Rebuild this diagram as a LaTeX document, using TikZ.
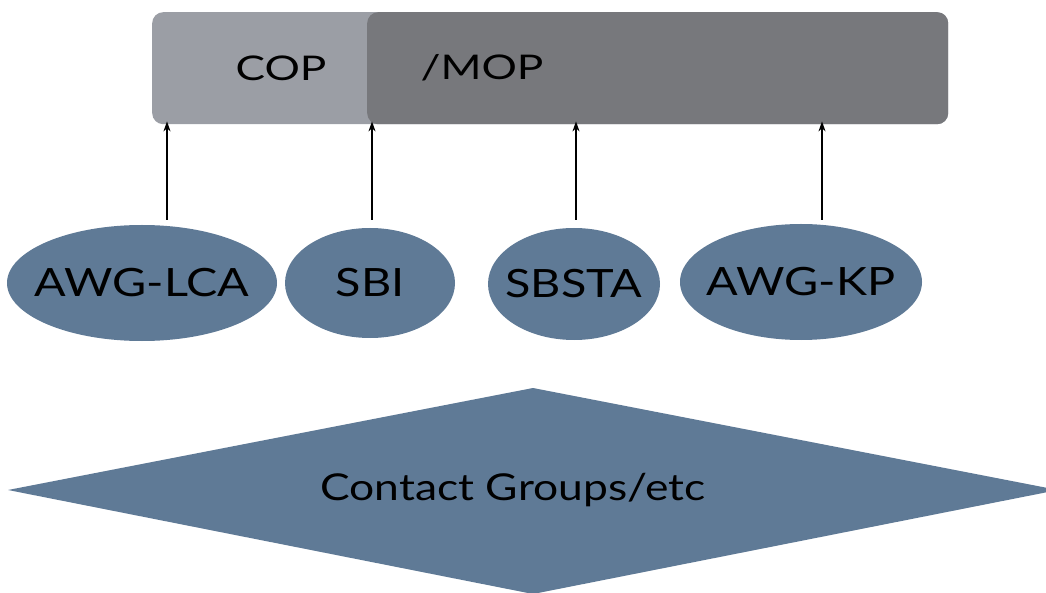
\documentclass[tikz,border=0pt]{standalone}
\usepackage{fontspec}
\setmainfont{Lato}
\usetikzlibrary{shapes.geometric,arrows.meta}
\definecolor{copgray}{HTML}{9B9EA5}
\definecolor{mopgray}{HTML}{77787C}
\definecolor{bodyblue}{HTML}{5F7A96}
\tikzset{
  bubble/.style={ellipse, fill=bodyblue, inner sep=0pt},
  lbl/.style={font=\fontsize{39}{41}\selectfont, text=black},
  toplbl/.style={font=\fontsize{34}{36}\selectfont, text=black},
  uparrow/.style={-{Stealth[length=10pt,width=7pt]}, line width=1.4pt, black},
}
\newcommand{\wide}[2][1.2]{\makebox[0pt]{\scalebox{#1}[1]{#2}}}
\begin{document}
\begin{tikzpicture}[x=1pt,y=-1pt]
\useasboundingbox (0,0) rectangle (1046,593);
% top bar
\node[fill=copgray, rounded corners=11pt, minimum width=796pt, minimum height=112pt, inner sep=0pt, anchor=north west] (bar) at (152,12) {};
\node[fill=mopgray, rounded corners=11pt, minimum width=581pt, minimum height=112pt, inner sep=0pt, anchor=north west] (mop) at (367,12) {};
\node[toplbl] (coplbl) at (281,68) {\wide[1.3]{COP}};
\node[toplbl] (moplbl) at (482,68) {\wide[1.3]{/MOP}};
% bodies
\node[bubble, minimum width=270pt, minimum height=116pt, lbl] (lca) at (142,283) {\wide{AWG-LCA}};
\node[bubble, minimum width=170pt, minimum height=110pt, lbl] (sbi) at (370,283) {\wide{SBI}};
\node[bubble, minimum width=172pt, minimum height=112pt, lbl] (sbsta) at (574,284) {\wide{SBSTA}};
\node[bubble, minimum width=242pt, minimum height=116pt, lbl] (kp) at (801,282) {\wide{AWG-KP}};
% arrows
\coordinate (a1) at (167,220);
\coordinate (a2) at (372,220);
\coordinate (a3) at (576,220);
\coordinate (a4) at (822,220);
\foreach \a in {a1,a2,a3,a4}
  \draw[uparrow] (\a) -- ([yshift=3pt]\a |- bar.south);
% diamond
\coordinate (dl) at (8,490);
\coordinate (dt) at (533,388);
\coordinate (dr) at (1058,490);
\coordinate (db) at (533,594);
\fill[bodyblue] (dl) -- (dt) -- (dr) -- (db) -- cycle;
\node[lbl, font=\fontsize{37}{39}\selectfont] (cg) at (513,490) {\wide{Contact Groups/etc}};
\end{tikzpicture}
\end{document}
